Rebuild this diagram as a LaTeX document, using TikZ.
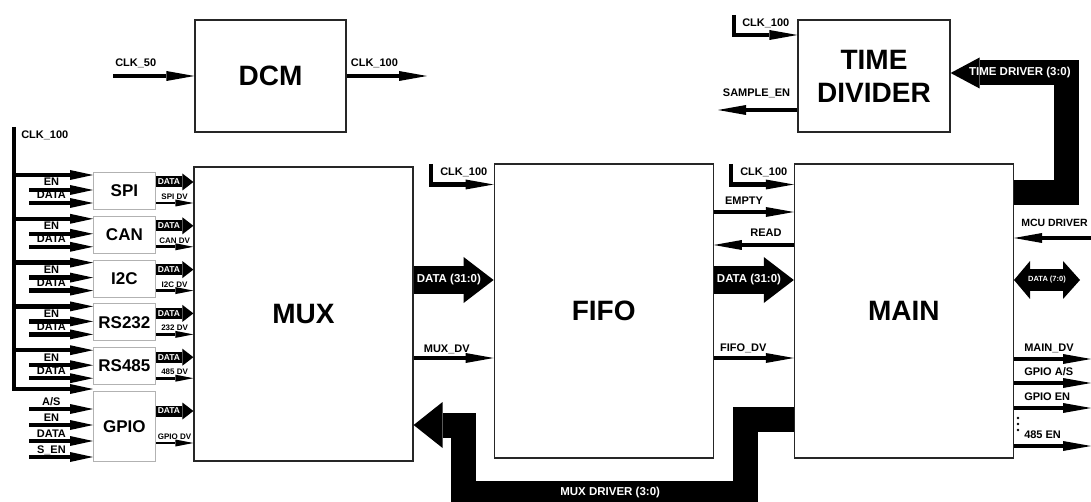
\documentclass[tikz,border=0pt]{standalone}
\usepackage{fontspec}
\setmainfont{Liberation Sans}
\usetikzlibrary{positioning,calc,arrows.meta}

\begin{document}
\begin{tikzpicture}[x=1pt, y=-1pt, node distance=6pt,
  blk/.style={rectangle, draw=black!85, line width=1.2pt, minimum width=219pt, minimum height=294pt, font=\bfseries\fontsize{28}{33}\selectfont, align=center},
  unit/.style={rectangle, draw=black!30, line width=0.8pt, minimum width=62pt, minimum height=37pt, inner sep=0pt, font=\bfseries\fontsize{17}{20}\selectfont},
  lbl/.style={font=\bfseries\fontsize{11}{13}\selectfont, inner sep=0pt},
  lab/.style={lbl, anchor=base west, xshift=8pt, yshift=7pt},
  inlab/.style={lbl, pos=.35, anchor=base, yshift=4pt},
  dvlab/.style={font=\bfseries\fontsize{8}{10}\selectfont, inner sep=0pt, anchor=base, yshift=3.5pt},
  wtxt/.style={text=white, font=\bfseries\fontsize{11.5}{13}\selectfont, inner sep=0pt},
  mtxt/.style={text=white, font=\bfseries\fontsize{8.5}{10}\selectfont, inner sep=0pt, pos=.35},
  sig/.style={line width=4.5pt, -{Triangle[length=28pt, width=10pt, line width=0pt]}},
  insig/.style={line width=4.5pt, -{Triangle[length=23pt, width=10pt, line width=0pt]}},
  dv/.style={line width=2.8pt, -{Triangle[length=18pt, width=7pt, line width=0pt]}},
  minibus/.style={line width=11pt, -{Triangle[length=11pt, width=17pt, line width=0pt]}},
  bus/.style={line width=28pt, -{Triangle[length=30pt, width=46pt, line width=0pt]}},
  drv/.style={line width=25pt, line join=miter, -{Triangle[length=29pt, width=46pt, line width=0pt]}},
]
\useasboundingbox (0,0) rectangle (1091,502);

\node (dcm) [blk, minimum width=151pt, minimum height=112pt] at (270.5,76) {DCM};
\node (tdiv) [blk, minimum width=152pt, minimum height=112pt] at (874,76) {TIME\\DIVIDER};
\node (mux) [blk] at (303.5,314) {MUX};
\node (fifo) [blk, right=80pt of mux, yshift=3pt] {FIFO};
\node (main) [blk, right=80pt of fifo] {MAIN};

\node (spi) [unit, anchor=north west] at (93,172) {SPI};
\node (can) [unit, below=of spi] {CAN};
\node (i2c) [unit, below=of can] {I2C};
\node (rs232) [unit, below=of i2c] {RS232};
\node (rs485) [unit, below=of rs232] {RS485};
\node (gpio) [unit, below=of rs485, minimum height=70pt] {GPIO};

\coordinate (clktop) at (14,127);
\coordinate (clkbot) at (14,389);
\coordinate (inx) at (29,0);
\coordinate (clk50) at (113,76);
\coordinate (dcmout) at (427,76);
\coordinate (tclk) at (734,15);
\coordinate (smpl) at (718,110);
\coordinate (fclk) at (431,164);
\coordinate (mclk) at (731,164);
\coordinate (rgt) at (1091,0);
\coordinate (d7) at (1080,280);

\draw[sig] (clk50) -- node[lab, pos=0, xshift=-8pt, yshift=2pt] {CLK\_50} (dcm.west);
\draw[sig] (dcm.east) -- node[lab, pos=0, xshift=-6pt, yshift=2pt] {CLK\_100} (dcmout);

\draw[sig] (tclk) |- node[lab, pos=.5, xshift=-2pt, yshift=1pt] {CLK\_100} (tdiv.west |- 0,35);
\draw[sig] (tdiv.west |- 0,110) -- node[lbl, pos=0, anchor=base east, xshift=-5pt, yshift=13pt] {SAMPLE\_EN} (smpl);
\draw[drv, -{Triangle[length=29pt, width=31pt, line width=0pt]}] (main.east |- 0,193) -- ++(52,0) |- node[wtxt, pos=.7] {TIME DRIVER (3:0)} (tdiv.east |- 0,73);

\draw[insig] (clktop) node[lbl, anchor=base west, xshift=5pt, yshift=-12pt] {CLK\_100} -- (clkbot) -- (gpio.west |- clkbot);

\foreach \b/\d in {spi/SPI DV, can/CAN DV, i2c/I2C DV, rs232/232 DV, rs485/485 DV} {
  \path ($(\b.north west)+(0,3)$) coordinate (k)
        ($(\b.north west)+(0,18)$) coordinate (e)
        ($(\b.north west)+(0,31)$) coordinate (d)
        ($(\b.north east)+(0,10)$) coordinate (o);
  \draw[insig] (k -| clktop) -- (k);
  \draw[insig] (e -| inx) -- node[inlab] {EN} (e);
  \draw[insig] (d -| inx) -- node[inlab] {DATA} (d);
  \draw[minibus] (o) -- node[mtxt] {DATA} (o -| mux.west);
  \draw[dv] (d -| \b.east) -- node[dvlab] {\d} (d -| mux.west);
}

\foreach \t [count=\i] in {A/S, EN, DATA, S\_EN} {
  \path ($(gpio.north west)+(0,{2+16*\i})$) coordinate (g);
  \draw[insig] (g -| inx) -- node[inlab] {\t} (g);
}
\path ($(gpio.north east)+(0,20)$) coordinate (o) ($(gpio.north east)+(0,52)$) coordinate (d);
\draw[minibus] (o) -- node[mtxt] {DATA} (o -| mux.west);
\draw[dv] (d) -- node[dvlab] {GPIO DV} (d -| mux.west);

\draw[sig] (fclk) |- node[lab, pos=.5, xshift=-1pt, yshift=2pt] {CLK\_100} (fifo.west |- 0,184.5);
\draw[bus] (mux.east |- 0,280) -- node[wtxt, pos=.44] {DATA (31:0)} (fifo.west |- 0,280);
\draw[sig] (mux.east |- 0,358) -- node[lab, pos=0, yshift=-1pt] {MUX\_DV} (fifo.west |- 0,358);

\draw[sig] (mclk) |- node[lab, pos=.5, xshift=-1pt, yshift=2pt] {CLK\_100} (main.west |- 0,184.5);
\draw[sig] (fifo.east |- 0,212) -- node[lab, pos=0, xshift=1pt] {EMPTY} (main.west |- 0,212);
\draw[sig] (main.west |- 0,245) -- node[lbl, pos=0, anchor=base east, xshift=-10pt, yshift=8pt] {READ} (fifo.east |- 0,245);
\draw[bus] (fifo.east |- 0,280) -- node[wtxt, pos=.44] {DATA (31:0)} (main.west |- 0,280);
\draw[sig] (fifo.east |- 0,358) -- node[lab, pos=0, xshift=-4pt, yshift=-0.5pt] {FIFO\_DV} (main.west |- 0,358);

\draw[drv] (main.west |- 0,419.5) -- ++(-48.5,0) -- ++(0,73.5) -- node[wtxt, pos=.48] {MUX DRIVER (3:0)} ++(-281.5,0) -- ++(0,-68) -- (mux.east |- 0,425);

\draw[sig] (rgt |- 0,238) -- node[lab, pos=1, xshift=-3pt, yshift=4.5pt, font=\bfseries\fontsize{10.5}{12}\selectfont] {MCU DRIVER} (main.east |- 0,238);
\draw[line width=22pt, {Triangle[length=16pt, width=38pt, line width=0pt]}-{Triangle[length=17pt, width=38pt, line width=0pt]}] (main.east |- 0,280) -- node[wtxt, font=\bfseries\fontsize{7.5}{9}\selectfont] {DATA (7:0)} (d7);
\foreach \y/\t in {359/MAIN\_DV, 383/{GPIO A/S}, 408/GPIO EN, 446/485 EN}
  \draw[sig] (main.east |- 0,\y) -- node[lab, pos=0, yshift=1pt] {\t} (rgt |- 0,\y);
\foreach \y in {418,424,430}
  \fill (1018,\y) circle (1.4);

\end{tikzpicture}
\end{document}
